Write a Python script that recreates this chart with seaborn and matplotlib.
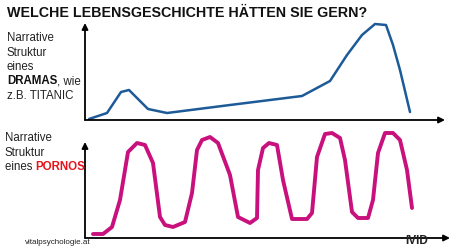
import matplotlib
matplotlib.use("Agg")
import matplotlib.pyplot as plt
import seaborn as sns

# ---- data (arbitrary story-time / tension units) ----
drama_t = [4, 22, 36, 44, 63, 82, 145, 217, 245, 262, 277, 290, 301, 308, 315, 325]
drama_v = [1, 7, 28, 30, 11, 7, 15, 24, 39, 65, 85, 96, 95, 75, 50, 8]

porno_t = [8, 18, 27, 35, 43, 52, 60, 68, 75, 80, 88, 100, 107, 112, 117, 125, 133, 145,
           153, 165, 172, 173, 178, 184, 192, 198, 207, 222, 227, 232, 240, 247, 255, 260,
           267, 273, 283, 288, 293, 300, 308, 315, 322, 327]
porno_v = [4, 4, 11, 38, 86, 95, 93, 75, 21, 13, 11, 16, 45, 88, 98, 101, 95, 63,
           21, 15, 20, 68, 90, 95, 93, 58, 19, 19, 25, 81, 104, 105, 100, 78,
           26, 20, 20, 38, 85, 105, 105, 98, 68, 30]

title = "WELCHE LEBENSGESCHICHTE HÄTTEN SIE GERN?"
drama_label = ["Narrative", "Struktur", "eines"]
porno_label = ["Narrative", "Struktur"]
source = "vitalpsychologie.at"

sns.set_theme(style="white")
plt.rcParams["font.family"] = ["Liberation Sans", "DejaVu Sans"]

W, H = 460, 248
fig = plt.figure(figsize=(W / 100, H / 100), dpi=100)
fig.patch.set_facecolor("white")

def fx(px):
    return px / W

def fy(py):
    return 1 - py / H

BLUE = "#1d5a98"
PINK = "#c8117d"
RED = "#e8141c"

# top panel
ax1 = fig.add_axes([fx(85), fy(120), fx(360), 97 / H])
ax1.set_xlim(0, 360)
ax1.set_ylim(0, 97)
sns.lineplot(x=drama_t, y=drama_v, ax=ax1, color=BLUE, lw=1.8, sort=False,
             clip_on=False, solid_joinstyle="round", solid_capstyle="round")

# bottom panel
ax2 = fig.add_axes([fx(85), fy(238), fx(365), 96 / H])
ax2.set_xlim(0, 365)
ax2.set_ylim(0, 96)
sns.lineplot(x=porno_t, y=porno_v, ax=ax2, color=PINK, lw=2.8, sort=False,
             clip_on=False, solid_joinstyle="round", solid_capstyle="round")

for ax in (ax1, ax2):
    ax.set_axis_off()
    ax.patch.set_alpha(0)
    ap = dict(arrowstyle="-|>", lw=1.3, color="black", mutation_scale=9,
              shrinkA=0, shrinkB=0)
    ax.annotate("", xy=(1, 0), xytext=(0, 0), xycoords="axes fraction", arrowprops=ap)
    ax.annotate("", xy=(0, 1), xytext=(0, 0), xycoords="axes fraction", arrowprops=ap)

# title
fig.text(fx(7), fy(13), title, fontsize=10.3, fontweight="bold", color="#111111",
         va="center", ha="left")

fs = 8.3
lh = 14.5
for i, s in enumerate(drama_label):
    fig.text(fx(7), fy(38 + i * lh), s, fontsize=fs, color="#222222", va="center")
fig.canvas.draw()
r = fig.canvas.get_renderer()
t1 = fig.text(fx(7), fy(38 + 3 * lh), "DRAMAS", fontsize=fs, fontweight="bold",
              color="#111111", va="center")
bb = t1.get_window_extent(r)
fig.text(bb.x1 / W, fy(38 + 3 * lh), ", wie", fontsize=fs, color="#222222", va="center")
fig.text(fx(7), fy(38 + 4 * lh), "z.B. TITANIC", fontsize=fs, color="#222222", va="center")

for i, s in enumerate(porno_label):
    fig.text(fx(5), fy(138 + i * lh), s, fontsize=fs, color="#222222", va="center")
t2 = fig.text(fx(5), fy(138 + 2 * lh), "eines ", fontsize=fs, color="#222222", va="center")
bb2 = t2.get_window_extent(r)
fig.text(bb2.x1 / W, fy(138 + 2 * lh), "PORNOS", fontsize=fs, fontweight="bold",
         color=RED, va="center")

fig.text(fx(25), fy(243), source, fontsize=5.8, color="#222222", va="center")
fig.text(fx(405), fy(247.5), "IVID", fontsize=8.5, fontweight="bold", color="#222222",
         va="bottom", ha="left")

fig.savefig("out.png", dpi=100, facecolor="white")
